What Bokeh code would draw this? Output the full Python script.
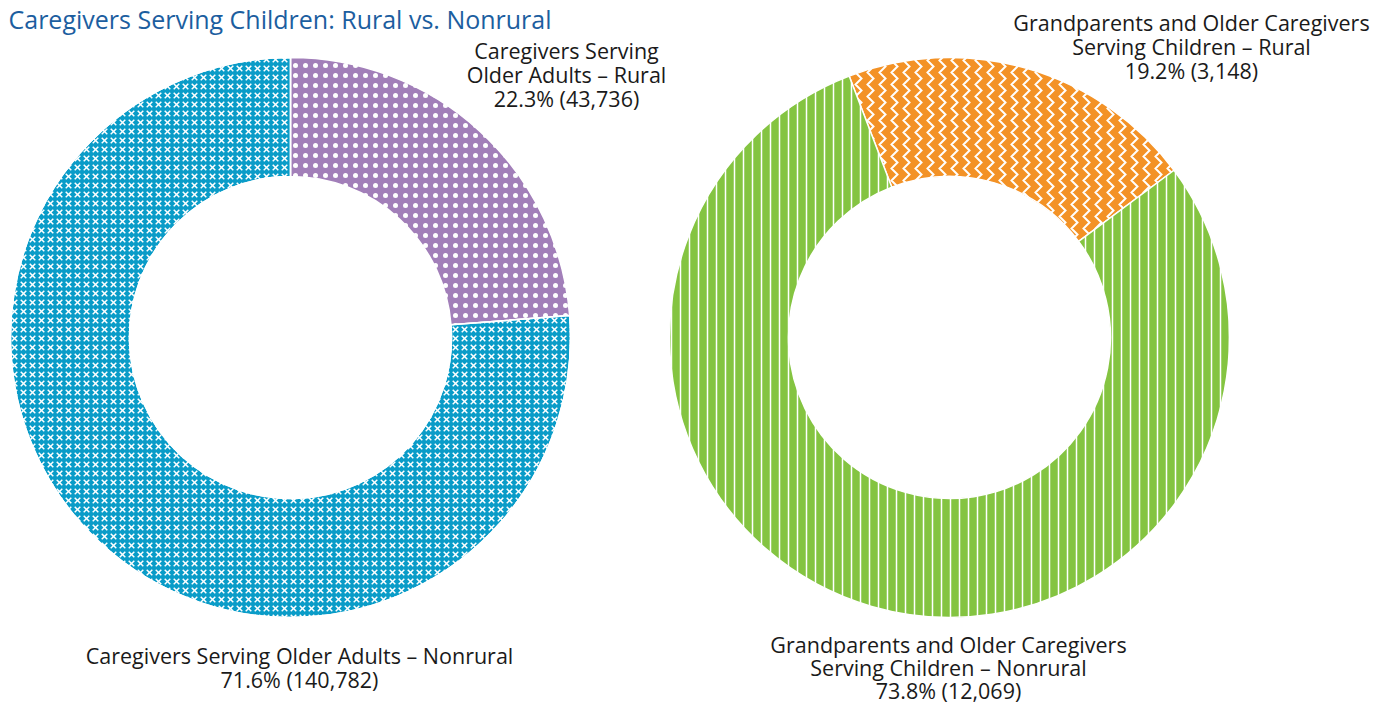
import numpy as np
from bokeh.plotting import figure
from bokeh.models import Range1d, ColumnDataSource
from bokeh.core.properties import value
from bokeh.embed import file_html
from bokeh.resources import INLINE

# ---- data ----
title_text = "Caregivers Serving Children: Rural vs. Nonrural"
left_labels = [["Caregivers Serving", "Older Adults \u2013 Rural"],
               ["Caregivers Serving Older Adults \u2013 Nonrural"]]
left_pct = [22.3, 71.6]
left_counts = ["43,736", "140,782"]
right_labels = [["Grandparents and Older Caregivers", "Serving Children \u2013 Rural"],
                ["Grandparents and Older Caregivers", "Serving Children \u2013 Nonrural"]]
right_pct = [19.2, 73.8]
right_counts = ["3,148", "12,069"]

W, H = 1371, 706
FONT = "Open Sans"
LINE = 24

p = figure(width=W, height=H, output_backend="svg", toolbar_location=None,
           x_range=Range1d(0, W), y_range=Range1d(0, H), min_border=0)
p.axis.visible = False
p.grid.visible = False
p.outline_line_color = None
p.background_fill_color = "white"


def sy(y):  # screen y -> data y
    return H - y


def donut(cx, cy, vals, start_deg, colors, hatches, scales, weights, extra=None):
    vals = np.array(vals, dtype=float)
    frac = vals / vals.sum()
    ang = np.radians(start_deg)
    starts, ends = [], []
    for f in frac:
        e = ang
        s = ang - f * 2 * np.pi
        starts.append(s)
        ends.append(e)
        ang = s
    src = ColumnDataSource(dict(x=[cx] * len(vals), y=[cy] * len(vals),
                                start=starts, end=ends, color=colors,
                                hatch=hatches, hs=scales, hw=weights))
    p.annular_wedge(x="x", y="y", inner_radius=161, outer_radius=280,
                    start_angle="start", end_angle="end", fill_color="color",
                    line_color="white", line_width=1.5,
                    hatch_pattern="hatch", hatch_color="white",
                    hatch_scale="hs", hatch_weight="hw", source=src)
    if extra is not None:
        i, pat, sc, wt = extra
        p.annular_wedge(x=[cx], y=[cy], inner_radius=161, outer_radius=280,
                        start_angle=[starts[i]], end_angle=[ends[i]],
                        fill_alpha=0, line_color="white", line_width=1.5,
                        hatch_pattern=pat, hatch_color="white",
                        hatch_scale=sc, hatch_weight=wt)


# left donut
donut(290, sy(337), left_pct, 90,
      ["#a27fb9", "#0a9cc8"], ["dot", "right_diagonal_dash"], [10, 9], [2, 1.5],
      extra=(1, "left_diagonal_dash", 9, 1.5))
# right donut
donut(949, sy(337), right_pct, 111,
      ["#f39226", "#84c441"], ["vertical_wave", "vertical_line"], [12, 9], [2, 1.5])

# labels: one text per line
blocks = [
    (566, 50, LINE, left_labels[0] + [f"{left_pct[0]}% ({left_counts[0]})"]),
    (299, 655, LINE, left_labels[1] + [f"{left_pct[1]}% ({left_counts[1]})"]),
    (1191, 22, LINE, right_labels[0] + [f"{right_pct[0]}% ({right_counts[0]})"]),
    (948, 644, 23, right_labels[1] + [f"{right_pct[1]}% ({right_counts[1]})"]),
]
xs, ys, ts = [], [], []
for bx, by, lh, lines in blocks:
    for k, ln in enumerate(lines):
        xs.append(bx)
        ys.append(sy(by + k * lh))
        ts.append(ln)
p.text(x=xs, y=ys, text=ts, text_align="center", text_baseline="middle",
       text_font=value(FONT), text_font_size="21.5px", text_color="#1a1a1a",
       text_font_style="normal")

# title
p.text(x=[8], y=[sy(1)], text=[title_text], text_align="left",
       text_baseline="top", text_font=value(FONT), text_font_size="25px",
       text_color="#1c5e9f", text_font_style="normal")

open("out.html", "w").write(file_html(p, INLINE))
